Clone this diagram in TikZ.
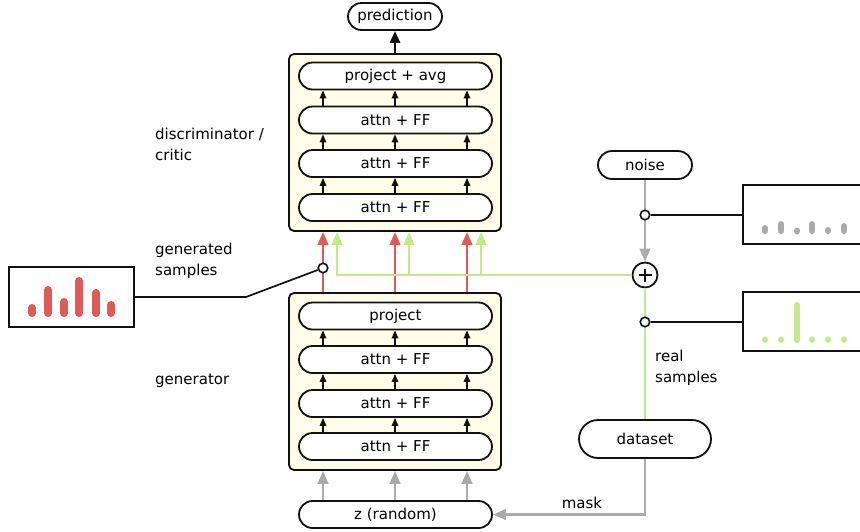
\documentclass[tikz,border=0pt]{standalone}
\usepackage{fontspec}
\setmainfont{DejaVu Sans}
\usetikzlibrary{arrows.meta,calc}
\definecolor{myred}{HTML}{E05A5A}
\definecolor{mygreen}{HTML}{C4E88C}
\definecolor{mygray}{HTML}{AAAAAA}
\definecolor{cream}{HTML}{FFFDE8}
\definecolor{ink}{HTML}{111111}
\begin{document}
\begin{tikzpicture}[x=1pt,y=-1pt,
  font=\fontsize{15}{17}\selectfont,
  pill/.style={draw=ink, line width=1.8pt, fill=white, rounded corners=13.5pt,
    minimum width=193pt, minimum height=27pt, inner sep=0pt},
  frame/.style={draw=ink, line width=1.8pt, fill=cream, rounded corners=5pt,
    minimum width=212pt, minimum height=177pt, inner sep=0pt},
  sample/.style={draw=ink, line width=1.8pt, fill=white, inner sep=0pt},
  sarr/.style={draw=ink, line width=1.4pt, -{Triangle[length=8pt,width=6.5pt]}},
  barr/.style={draw=ink, line width=2.8pt, -{Triangle[length=12pt,width=10pt]}},
  rarr/.style={draw=myred, line width=2.6pt, -{Triangle[length=13pt,width=10.5pt]}},
  garr/.style={draw=mygreen, line width=2.6pt, -{Triangle[length=13pt,width=10.5pt]}},
  gyarr/.style={draw=mygray, line width=2.6pt, -{Triangle[length=13pt,width=10.5pt]}},
  link/.style={draw=ink, line width=1.7pt},
  tap/.style={circle, draw=ink, line width=1.6pt, fill=white, minimum size=9.5pt, inner sep=0pt},
  lbl/.style={anchor=west, align=left, font=\fontsize{15}{20.5}\selectfont, inner sep=0pt},
  rbar/.style={draw=myred, line width=7.5pt, line cap=round},
  gybar/.style={draw=mygray, line width=6.5pt, line cap=round},
  gnbar/.style={draw=mygreen, line width=6.5pt, line cap=round}]
\useasboundingbox (0,0) rectangle (860,531);

% column coordinates
\coordinate (c1) at (323,0);
\coordinate (c2) at (395,0);
\coordinate (c3) at (467,0);
\coordinate (k1) at (337,0);
\coordinate (k2) at (409,0);
\coordinate (k3) at (481,0);

% discriminator
\node[frame] (dbox) at (395,142.5) {};
\node[pill] (d0) at (395.5,76) {project + avg};
\node[pill] (d1) at (395.5,120) {attn + FF};
\node[pill] (d2) at (395.5,163.5) {attn + FF};
\node[pill] (d3) at (395.5,207.5) {attn + FF};
\node[pill, minimum width=94pt] (pred) at (395,16.5) {prediction};

% generator
\node[frame] (gbox) at (395,381.5) {};
\node[pill] (g0) at (395.5,316) {project};
\node[pill] (g1) at (395.5,359.5) {attn + FF};
\node[pill] (g2) at (395.5,403.5) {attn + FF};
\node[pill] (g3) at (395.5,446.5) {attn + FF};
\node[pill] (z) at (395.5,514.5) {z (random)};

% other nodes
\node[pill, minimum width=94pt, minimum height=28pt, rounded corners=14pt] (noise) at (645,165) {noise};
\node[pill, minimum width=132pt, minimum height=38pt, rounded corners=19pt] (data) at (645,439) {dataset};
\node[circle, draw=ink, line width=1.8pt, fill=white, minimum size=25pt, inner sep=0pt] (plus) at (645,275) {};
\draw[ink, line width=1.5pt] ($(plus.center)+(-6.5,0)$) -- ($(plus.center)+(6.5,0)$)
  ($(plus.center)+(0,-6.5)$) -- ($(plus.center)+(0,6.5)$);

% inner arrows
\foreach \c in {c1,c2,c3}{
  \draw[sarr] (d3.north -| \c) -- (d2.south -| \c);
  \draw[sarr] (d2.north -| \c) -- (d1.south -| \c);
  \draw[sarr] (d1.north -| \c) -- (d0.south -| \c);
  \draw[sarr] (g3.north -| \c) -- (g2.south -| \c);
  \draw[sarr] (g2.north -| \c) -- (g1.south -| \c);
  \draw[sarr] (g1.north -| \c) -- (g0.south -| \c);
  \draw[gyarr] (z.north -| \c) -- (gbox.south -| \c);
  \draw[rarr] (gbox.north -| \c) -- (dbox.south -| \c);
}
\draw[barr] (dbox.north -| c2) -- (pred.south);

% green real/fake path
\foreach \k in {k1,k2,k3}{
  \draw[garr] (plus.west) -| (dbox.south -| \k);
}
\draw[gyarr] (noise.south) -- (plus.north);
\draw[mygreen, line width=2.6pt] (plus.south) -- (data.north);
\draw[gyarr] (data.south) |- (z.east);

% sample boxes
\node[sample, minimum width=125pt, minimum height=60pt] (sgen) at (71.5,297) {};
\node[sample, minimum width=119pt, minimum height=59pt] (snoise) at (802.5,214.5) {};
\node[sample, minimum width=119pt, minimum height=59pt] (sreal) at (802.5,321.5) {};

\node[tap] (tgen) at (323,268) {};
\node[tap] (tnoise) at (645,215) {};
\node[tap] (treal) at (645,322) {};
\coordinate (bend) at (246,297);
\draw[link] (sgen.east) -- (bend) -- (tgen);
\draw[link] (tnoise) -- (snoise.west |- tnoise);
\draw[link] (treal) -- (sreal.west |- treal);

% bars
\foreach \x/\t in {32/304,48/286,64/298,79/277,96/289,111/301}{
  \draw[rbar] (\x,313.25) -- (\x,\t+3.75);
}
\foreach \x/\t in {765/225,781/221,797/228,812/221,828/227,844/223}{
  \draw[gybar] (\x,230.75) -- (\x,\t+3.25);
}
\foreach \x/\t in {765/336.3,781/336.3,797/302,812/336.3,828/336.3,844/336.3}{
  \draw[gnbar] (\x,339.75) -- (\x,\t+3.25);
}

% labels
\node[lbl] (ldisc) at (155,144.5) {discriminator /\\critic};
\node[lbl] (lgens) at (155,261) {generated\\samples};
\node[lbl] (lgen) at (155,381) {generator};
\node[lbl] (lreal) at (655,368) {real\\samples};
\node[inner sep=0pt] (lmask) at (582,503) {mask};
\end{tikzpicture}
\end{document}
